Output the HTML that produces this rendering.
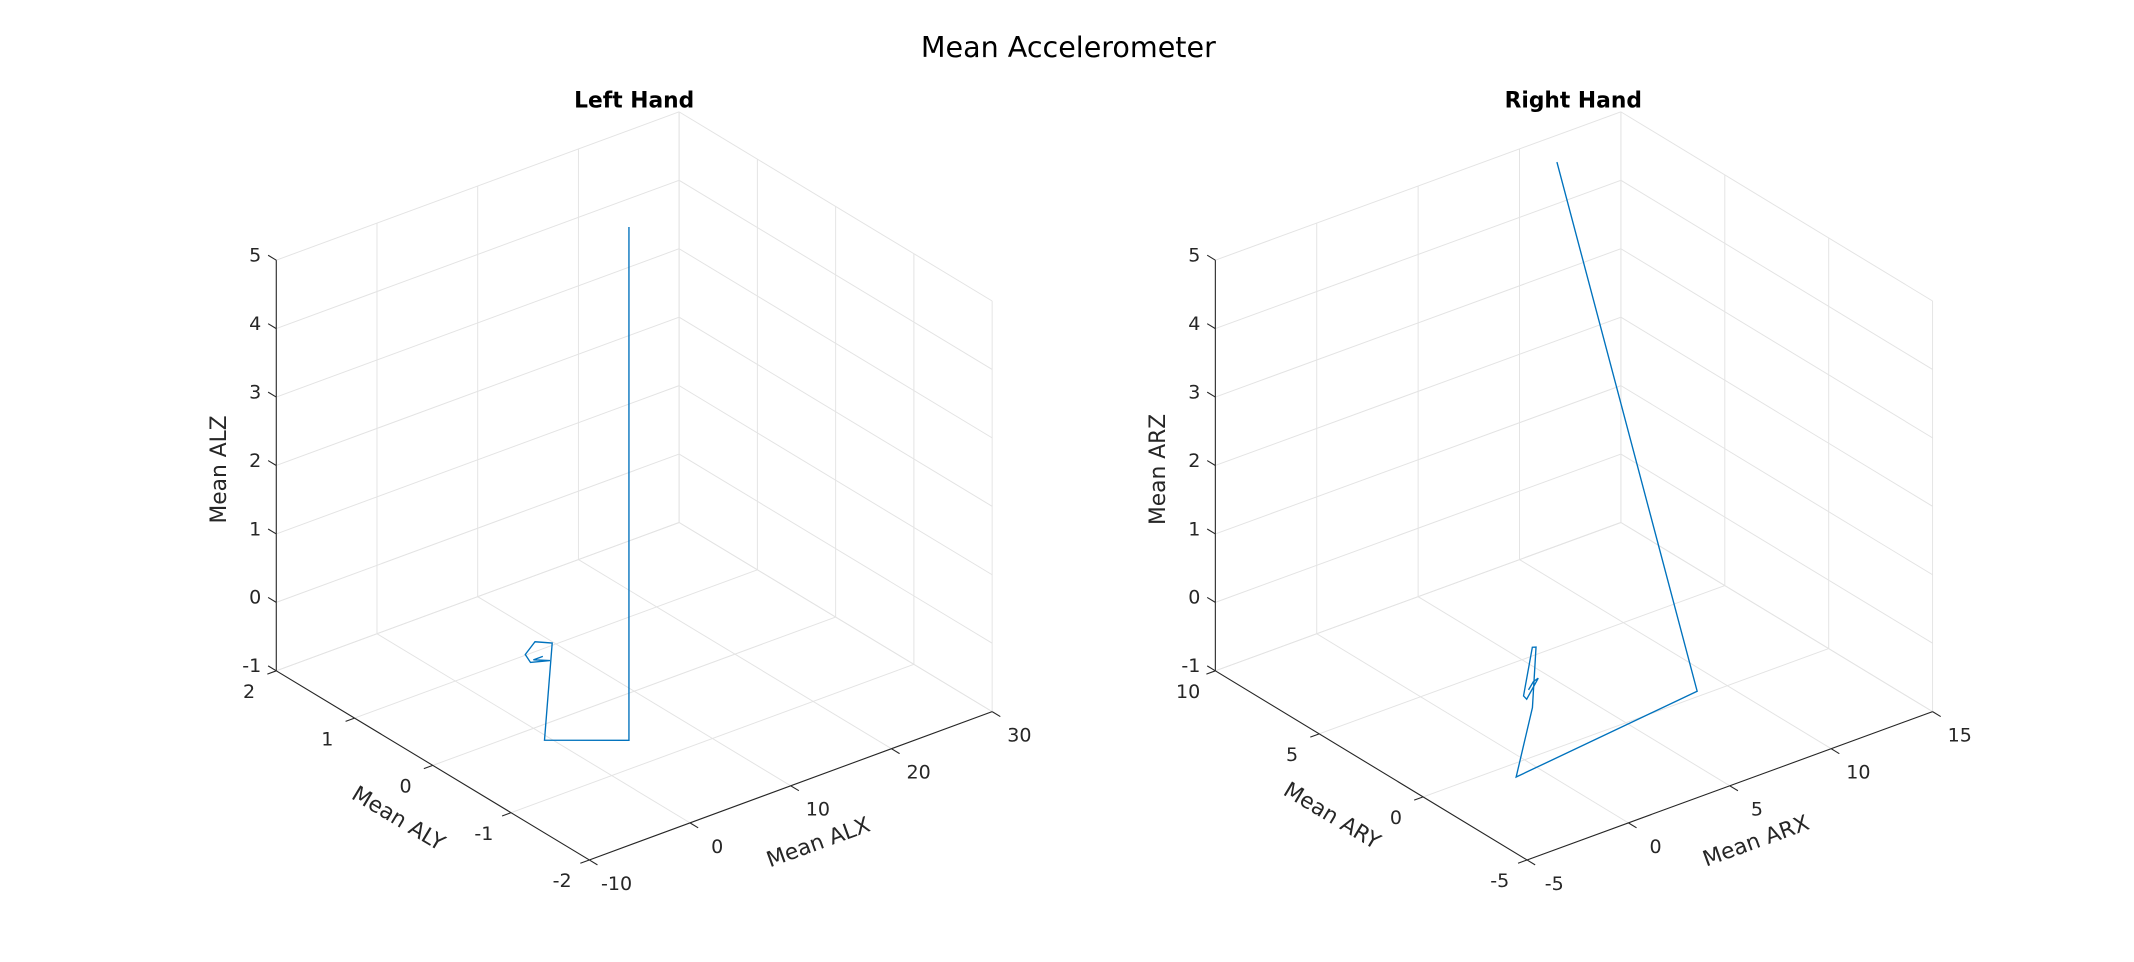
<!DOCTYPE html>
<html><head><meta charset="utf-8"><title>Mean Accelerometer</title>
<style>
html,body{margin:0;padding:0;background:#fff;}
svg{display:block;font-family:"DejaVu Sans","Liberation Sans",sans-serif;}
</style></head>
<body>
<svg id="fig" width="2134" height="962" viewBox="0 0 1568 707" preserveAspectRatio="none" xmlns="http://www.w3.org/2000/svg">
<rect x="0" y="0" width="1568" height="707" fill="#fff"/>
<text x="785" y="42" font-size="21" text-anchor="middle" fill="#000">Mean Accelerometer</text>
<g id="left"></g>
<g id="right"></g>
</svg>
<script>
// Left hand data
const leftX = [4.66, 4.66, -0.54, 9.86, 8.93, 7.03, 6.54, 7.93, 6.98, 7.92];
const leftY = [-0.62, -0.62, -0.21, 1.03, 1.13, 1.01, 0.88, 0.81, 0.90, 0.90];
const leftZ = [6.5, -1, -1, -1, -1, -1, -1, -1, -1, -1];
const leftXTicks = [-10, 0, 10, 20, 30];
const leftYTicks = [-2, -1, 0, 1, 2];
const leftZTicks = [-1, 0, 1, 2, 3, 4, 5];
// Right hand data
const rightX = [8.75, 8.79, -1.13, 2.89, 6.07, 5.95, 3.21, 3.14, 4.56, 4.24, 3.67];
const rightY = [6.98, 0.27, -0.70, 2.44, 5.37, 5.43, 3.18, 2.96, 3.79, 3.71, 3.39];
const rightZ = [5.5, -1, -1, -1, -1, -1, -1, -1, -1, -1, -1];
const rightXTicks = [-5, 0, 5, 10, 15];
const rightYTicks = [-5, 0, 5, 10];
const rightZTicks = [-1, 0, 1, 2, 3, 4, 5];

const NS = "http://www.w3.org/2000/svg";
function mk(parent, tag, attrs){
  const e = document.createElementNS(NS, tag);
  for (const k in attrs) e.setAttribute(k, attrs[k]);
  parent.appendChild(e);
  return e;
}
function buildAxes(g, cfg){
  const {O, L, R, xr, yr, zr, X, Y, Z, xt, yt, zt, title, titleX, xl, yl, zl} = cfg;
  const ex = [(R[0]-O[0])/(xr[1]-xr[0]), (R[1]-O[1])/(xr[1]-xr[0])];
  const ey = [(L[0]-O[0])/(yr[1]-yr[0]), (L[1]-O[1])/(yr[1]-yr[0])];
  const ez = 50.3;
  const P = (x,y,z)=>[O[0]+(x-xr[0])*ex[0]+(y-yr[0])*ey[0], O[1]+(x-xr[0])*ex[1]+(y-yr[0])*ey[1]-(z-zr[0])*ez];
  const line = (a,b,stroke,name,w)=>{
    const l = mk(g,'line',{x1:a[0],y1:a[1],x2:b[0],y2:b[1],stroke:stroke,'stroke-width':w||0.8});
    
    
  };
  const grid = '#e3e3e3';
  xt.forEach(v=>line(P(v,yr[0],zr[0]),P(v,yr[1],zr[0]),grid,'floor-gridline-x',0.7));
  yt.forEach(v=>line(P(xr[0],v,zr[0]),P(xr[1],v,zr[0]),grid,'floor-gridline-y',0.7));
  xt.forEach(v=>line(P(v,yr[1],zr[0]),P(v,yr[1],zr[1]),grid,'back-wall-gridline-x',0.7));
  zt.forEach(v=>line(P(xr[0],yr[1],v),P(xr[1],yr[1],v),grid,'back-wall-gridline-z',0.7));
  yt.forEach(v=>line(P(xr[1],v,zr[0]),P(xr[1],v,zr[1]),grid,'side-wall-gridline-y',0.7));
  zt.forEach(v=>line(P(xr[1],yr[0],v),P(xr[1],yr[1],v),grid,'side-wall-gridline-z',0.7));
  const ax = '#262626';
  line(P(xr[0],yr[1],zr[0]),P(xr[0],yr[1],zr[1]),ax,'z-axis-line');
  line(P(xr[0],yr[0],zr[0]),P(xr[0],yr[1],zr[0]),ax,'y-axis-line');
  line(P(xr[0],yr[0],zr[0]),P(xr[1],yr[0],zr[0]),ax,'x-axis-line');
  const eyn = Math.hypot(ey[0],ey[1]), exn = Math.hypot(ex[0],ex[1]);
  zt.forEach(v=>{
    const p = P(xr[0],yr[1],v);
    line(p,[p[0]+ey[0]/eyn*7,p[1]+ey[1]/eyn*7],ax,'z-tick');
    const t = mk(g,'text',{x:p[0]-11,y:p[1]+1,'font-size':14,'text-anchor':'end',fill:'#262626'});
    
    
    t.textContent = v;
  });
  yt.forEach(v=>{
    const p = P(xr[0],v,zr[0]);
    line(p,[p[0]-ex[0]/exn*7,p[1]-ex[1]/exn*7],ax,'y-tick');
    const t = mk(g,'text',{x:p[0]-20,y:p[1]+20,'font-size':14,'text-anchor':'middle',fill:'#262626'});
    
    
    t.textContent = v;
  });
  xt.forEach(v=>{
    const p = P(v,yr[0],zr[0]);
    line(p,[p[0]-ey[0]/eyn*7,p[1]-ey[1]/eyn*7],ax,'x-tick');
    const t = mk(g,'text',{x:p[0]+20,y:p[1]+22,'font-size':14,'text-anchor':'middle',fill:'#262626'});
    
    
    t.textContent = v;
  });
  const tt = mk(g,'text',{x:titleX,y:79,'font-size':16,'font-weight':'bold','text-anchor':'middle',fill:'#000'});
  
  
  tt.textContent = title;
  const lab = (txt,pos,rot,name)=>{
    const t = mk(g,'text',{x:0,y:0,'font-size':16,'text-anchor':'middle',fill:'#262626',transform:`translate(${pos[0]},${pos[1]}) rotate(${rot})`});
    
    
    t.textContent = txt;
  };
  lab(zl[0],zl[1],-90,'z-axis-title');
  lab(yl[0],yl[1],31,'y-axis-title');
  lab(xl[0],xl[1],-20,'x-axis-title');
  const pts = X.map((x,i)=>P(x,Y[i],Z[i]).map(n=>n.toFixed(2)).join(',')).join(' ');
  const pl = mk(g,'polyline',{points:pts,fill:'none',stroke:'#0072BD','stroke-width':1});
  
  
}
buildAxes(document.getElementById('left'), {
  O:[433,632], L:[203,493], R:[729,523], xr:[-10,30], yr:[-2,2], zr:[-1,5],
  X:leftX, Y:leftY, Z:leftZ, xt:leftXTicks, yt:leftYTicks, zt:leftZTicks,
  title:'Left Hand', titleX:466,
  zl:['Mean ALZ',[166,345]], yl:['Mean ALY',[290,606]], xl:['Mean ALX',[603,624]]
});
buildAxes(document.getElementById('right'), {
  O:[1122,632], L:[893,493], R:[1420,523], xr:[-5,15], yr:[-5,10], zr:[-1,5],
  X:rightX, Y:rightY, Z:rightZ, xt:rightXTicks, yt:rightYTicks, zt:rightZTicks,
  title:'Right Hand', titleX:1156,
  zl:['Mean ARZ',[856,345]], yl:['Mean ARY',[976,604]], xl:['Mean ARX',[1292,623]]
});
</script>
</body></html>
